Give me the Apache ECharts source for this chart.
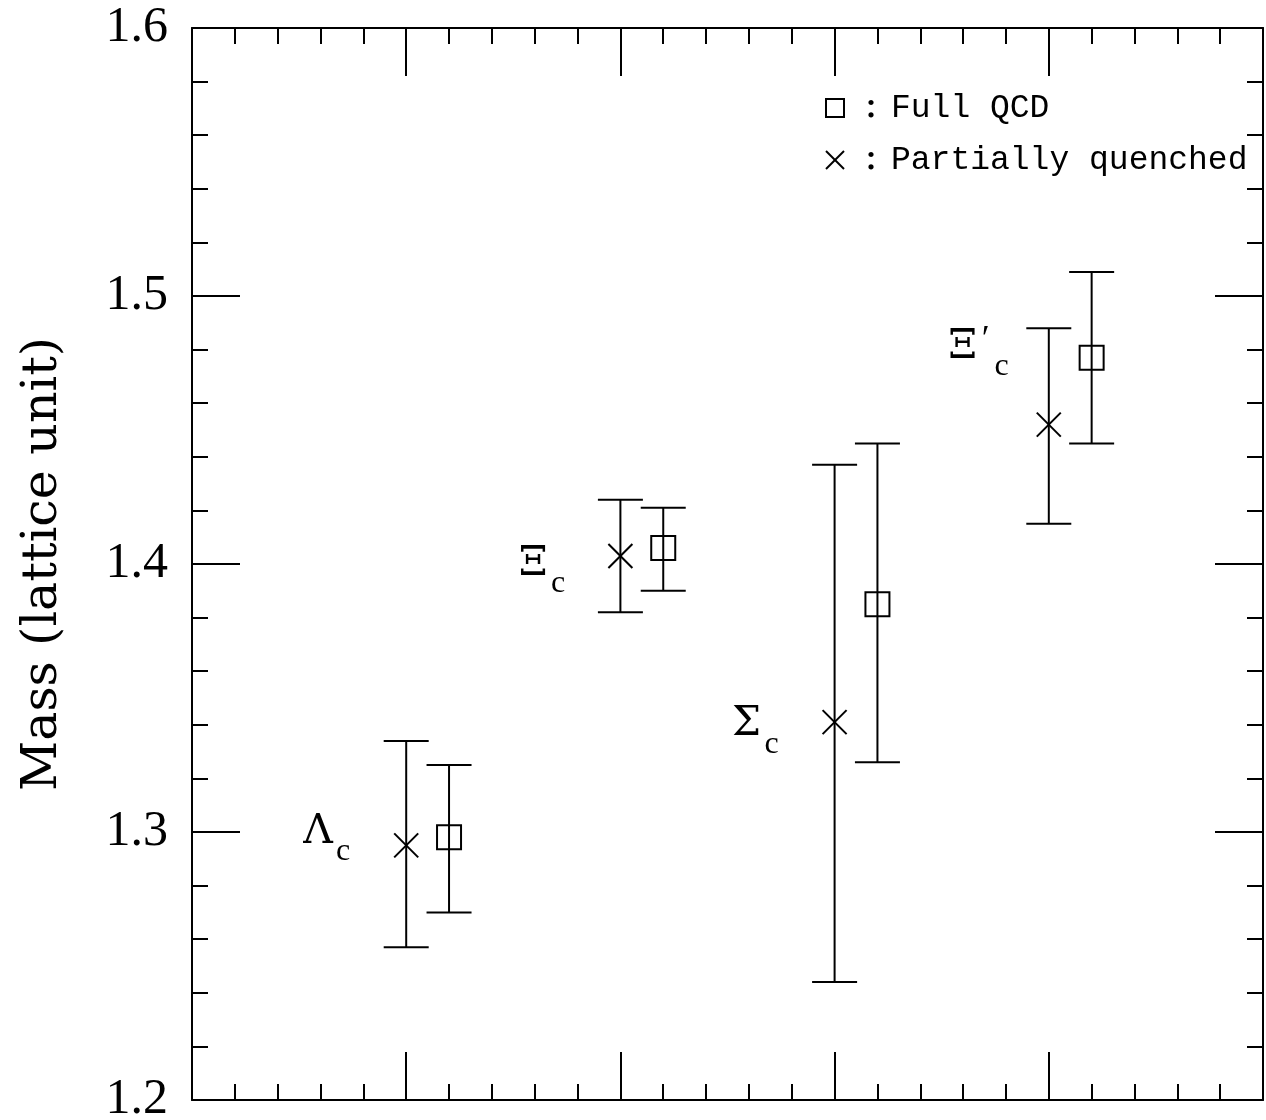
<!DOCTYPE html>
<html><head><meta charset="utf-8">
<script src="https://cdn.jsdelivr.net/npm/echarts/dist/echarts.min.js"></script>
<style>html,body{margin:0;padding:0;background:#fff}#c{width:1266px;height:1120px}</style>
</head><body><div id="c"></div><script>
// ---- data ----
const particles = ['Λc', 'Ξc', 'Σc', "Ξ'c"];
const pqX = [1, 2, 3, 4];
const pqMass = [1.295, 1.403, 1.341, 1.452];
const pqLow = [1.257, 1.382, 1.244, 1.415];
const pqHigh = [1.334, 1.424, 1.437, 1.488];
const fullX = [1.2, 2.2, 3.2, 4.2];
const fullMass = [1.298, 1.406, 1.385, 1.477];
const fullLow = [1.270, 1.390, 1.326, 1.445];
const fullHigh = [1.325, 1.421, 1.445, 1.509];
const labelMain = ['Λ', 'Ξ', 'Σ', 'Ξ'];
const labelPrime = ['', '', '', '′'];
const labelSub = ['c', 'c', 'c', 'c'];
const labelX = [0.589, 1.593, 2.589, 3.598];
const labelY = [1.300, 1.400, 1.340, 1.481];
const legendNames = ['Full QCD', 'Partially quenched'];
const yTitle = 'Mass (lattice unit)';

const BLACK = '#000';
function errRender(kind) {
  return function (params, api) {
    const x = api.value(0), m = api.value(1), lo = api.value(2), hi = api.value(3);
    const c = api.coord([x, m]), l = api.coord([x, lo]), h = api.coord([x, hi]);
    const cap = 22.5, s = 12;
    const st = { stroke: BLACK, lineWidth: 2, fill: null };
    const ch = [
      { type: 'line', shape: { x1: c[0], y1: l[1], x2: c[0], y2: h[1] }, style: st },
      { type: 'line', shape: { x1: c[0] - cap, y1: l[1], x2: c[0] + cap, y2: l[1] }, style: st },
      { type: 'line', shape: { x1: c[0] - cap, y1: h[1], x2: c[0] + cap, y2: h[1] }, style: st }
    ];
    if (kind === 'sq') {
      ch.push({ type: 'rect', shape: { x: c[0] - s, y: c[1] - s, width: 2 * s, height: 2 * s }, style: { stroke: BLACK, lineWidth: 2, fill: 'none' } });
    } else {
      ch.push({ type: 'line', shape: { x1: c[0] - s, y1: c[1] - s, x2: c[0] + s, y2: c[1] + s }, style: st });
      ch.push({ type: 'line', shape: { x1: c[0] - s, y1: c[1] + s, x2: c[0] + s, y2: c[1] - s }, style: st });
    }
    return { type: 'group', children: ch };
  };
}
function txt(text, x, y, size, family, align) {
  return { type: 'text', style: { text: text, x: x, y: y, fontSize: size, fontFamily: family, fill: BLACK, align: align || 'center', verticalAlign: 'middle' } };
}
function labelRender(params, api) {
  const i = params.dataIndex;
  const p = api.coord([api.value(0), api.value(1)]);
  const hasPrime = labelPrime[i] !== '';
  const ch = [
    txt(labelMain[i], p[0], p[1], 41, 'DejaVu Serif'),
    txt(labelSub[i], p[0] + (hasPrime ? 39 : 25), p[1] + 20, 32, 'Liberation Serif')
  ];
  if (hasPrime) ch.push(txt(labelPrime[i], p[0] + 23, p[1] - 6, 36, 'Liberation Serif'));
  return { type: 'group', children: ch };
}

const lineSt = { color: BLACK, width: 2 };
function xAx(pos) {
  return {
    type: 'value', position: pos, min: 0, max: 5, interval: 1,
    axisLine: { show: true, onZero: false, lineStyle: lineSt },
    axisTick: { show: true, inside: true, length: 48, lineStyle: lineSt },
    minorTick: { show: true, splitNumber: 5, length: 16, lineStyle: lineSt },
    axisLabel: { show: false }, splitLine: { show: false }, minorSplitLine: { show: false }
  };
}
function yAx(pos, labels) {
  const o = {
    type: 'value', position: pos, min: 1.2, max: 1.6, interval: 0.1,
    axisLine: { show: true, onZero: false, lineStyle: lineSt },
    axisTick: { show: true, inside: true, length: 48, lineStyle: lineSt },
    minorTick: { show: true, splitNumber: 5, length: 16, lineStyle: lineSt },
    axisLabel: { show: labels, formatter: v => v.toFixed(1), fontFamily: 'Liberation Serif', fontSize: 50, color: BLACK, margin: 24, showMinLabel: true, showMaxLabel: true },
    splitLine: { show: false }, minorSplitLine: { show: false }
  };
  if (labels) {
    o.name = yTitle; o.nameLocation = 'middle'; o.nameGap = 124;
    o.nameTextStyle = { fontFamily: 'DejaVu Serif', fontSize: 49, color: BLACK };
  }
  return o;
}

const chart = echarts.init(document.getElementById('c'), null, { renderer: 'canvas' });
chart.setOption({
  animation: false,
  backgroundColor: '#fff',
  grid: { left: 192, top: 28, right: 3, bottom: 20, containLabel: false, outerBoundsMode: 'none' },
  xAxis: [xAx('bottom'), xAx('top')],
  yAxis: [yAx('left', true), yAx('right', false)],
  series: [
    { type: 'custom', name: legendNames[1], renderItem: errRender('x'), encode: { x: 0, y: 1 }, clip: false,
      data: pqX.map((x, i) => [x, pqMass[i], pqLow[i], pqHigh[i]]) },
    { type: 'custom', name: legendNames[0], renderItem: errRender('sq'), encode: { x: 0, y: 1 }, clip: false,
      data: fullX.map((x, i) => [x, fullMass[i], fullLow[i], fullHigh[i]]) },
    { type: 'custom', name: 'labels', renderItem: labelRender, encode: { x: 0, y: 1 }, clip: false,
      data: labelX.map((x, i) => [x, labelY[i]]) }
  ],
  graphic: [
    { type: 'rect', shape: { x: 826, y: 99, width: 18, height: 18 }, style: { stroke: BLACK, lineWidth: 2, fill: 'none' } },
    { type: 'line', shape: { x1: 826, y1: 151, x2: 844, y2: 169 }, style: { stroke: BLACK, lineWidth: 2 } },
    { type: 'line', shape: { x1: 826, y1: 169, x2: 844, y2: 151 }, style: { stroke: BLACK, lineWidth: 2 } },
    txt(':', 871, 107, 40, 'DejaVu Serif'),
    txt(':', 871, 159, 40, 'DejaVu Serif'),
    txt(legendNames[0], 891, 108, 33, 'Liberation Mono', 'left'),
    txt(legendNames[1], 891, 160, 33, 'Liberation Mono', 'left')
  ]
});
</script></body></html>
